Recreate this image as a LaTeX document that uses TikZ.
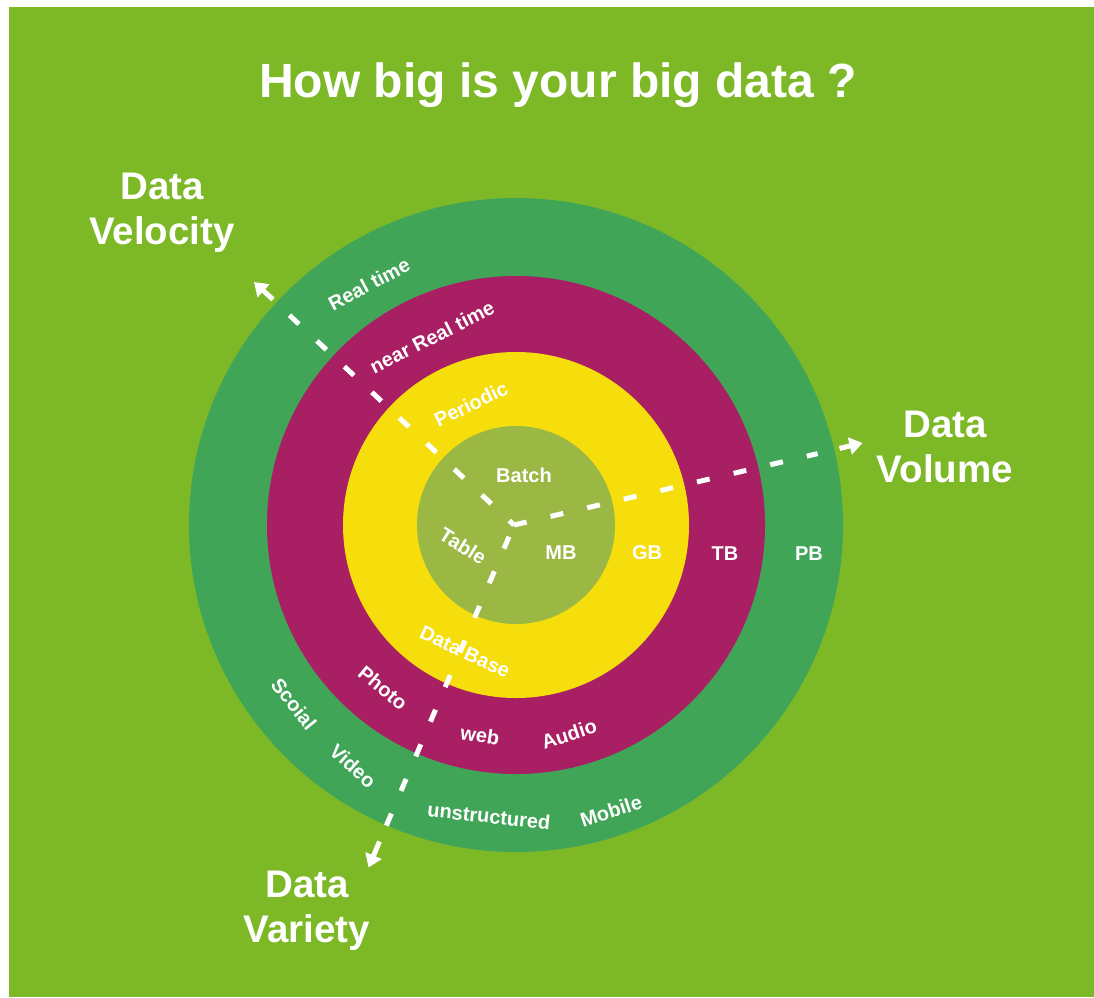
\documentclass[tikz,border=0pt]{standalone}
\usepackage{fontspec}
\setmainfont{Liberation Sans}
\usetikzlibrary{arrows.meta}
\definecolor{bglime}{RGB}{125,184,39}
\definecolor{ringgreen}{RGB}{65,165,88}
\definecolor{ringmagenta}{RGB}{169,31,99}
\definecolor{ringyellow}{RGB}{246,221,12}
\definecolor{ringolive}{RGB}{156,184,68}
\begin{document}
\begin{tikzpicture}[x=1pt,y=-1pt,
  ring/.style={circle,inner sep=0pt,outer sep=0pt,draw=none},
  lbl/.style={text=white,font=\bfseries\fontsize{20}{24}\selectfont,inner sep=0pt},
  axislbl/.style={text=white,font=\bfseries\fontsize{38.5}{46}\selectfont,inner sep=0pt,anchor=base},
  dashline/.style={draw=white,line width=5pt,dash pattern=on 13pt off 24.6pt},
  tipseg/.style={draw=white,line width=5pt,-{Triangle[length=13pt,width=17pt]}},
]
\useasboundingbox (0,0) rectangle (1094,997);
\fill[white] (0,0) rectangle (1094,997);
\fill[bglime] (9,7) rectangle (1094,997);

% rings
\node[ring,fill=ringgreen,minimum size=654pt] (r1) at (516,525) {};
\node[ring,fill=ringmagenta,minimum size=498pt] (r2) at (516,525) {};
\node[ring,fill=ringyellow,minimum size=346pt] (r3) at (516,525) {};
\node[ring,fill=ringolive,minimum size=198pt] (r4) at (516,525) {};

% title
\node[text=white,font=\bfseries\fontsize{48}{58}\selectfont,inner sep=0pt,anchor=base] (title) at (558,97) {How big is your big data ?};

% axes
\coordinate (C) at (514,525);
\coordinate (velD) at (286,312);
\coordinate (velA) at (273,299.5);
\coordinate (velTip) at (254,282);
\coordinate (volD) at (817.6,453.6);
\coordinate (volA) at (839.5,448.4);
\coordinate (volTip) at (862.5,443);
\coordinate (varD) at (385.8,826.8);
\coordinate (varA) at (379.5,841.5);
\coordinate (varTip) at (368.5,867.5);

\draw[dashline,dash phase=6.5pt] (C) -- (velD);
\draw[tipseg] (velA) -- (velTip);
\draw[dashline,dash phase=0pt] (C) -- (volD);
\draw[tipseg] (volA) -- (volTip);
\draw[dashline,dash phase=24.9pt] (C) -- (varD);
\draw[tipseg] (varA) -- (varTip);

% axis labels
\node[axislbl] (velData) at (162,199) {Data};
\node[axislbl] (velName) at (162,244) {Velocity};
\node[axislbl] (volData) at (945,437) {Data};
\node[axislbl] (volName) at (945,482) {Volume};
\node[axislbl] (varData) at (307,897) {Data};
\node[axislbl] (varName) at (307,942) {Variety};

% ring labels
\node[lbl,rotate=28] (l1) at (369,284) {Real time};
\node[lbl,rotate=27] (l2) at (432,337) {near Real time};
\node[lbl,rotate=26] (l3) at (471,404) {Periodic};
\node[lbl] (l4) at (524,475) {Batch};
\node[lbl,rotate=-32] (l5) at (463,546) {Table};
\node[lbl] (l6) at (561,553) {MB};
\node[lbl] (l7) at (647,553) {GB};
\node[lbl] (l8) at (725,554) {TB};
\node[lbl] (l9) at (809,554) {PB};
\node[lbl,rotate=-25] (l10) at (465,652) {Data Base};
\node[lbl,rotate=-40] (l11) at (383,688) {Photo};
\node[lbl,rotate=-9] (l12) at (480,735) {web};
\node[lbl,rotate=18] (l13) at (569,734) {Audio};
\node[lbl,rotate=-51] (l14) at (294,704) {Scoial};
\node[lbl,rotate=-42] (l15) at (353,766) {Video};
\node[lbl,rotate=-6] (l16) at (489,816) {unstructured};
\node[lbl,rotate=18] (l17) at (611,811) {Mobile};
\end{tikzpicture}
\end{document}
